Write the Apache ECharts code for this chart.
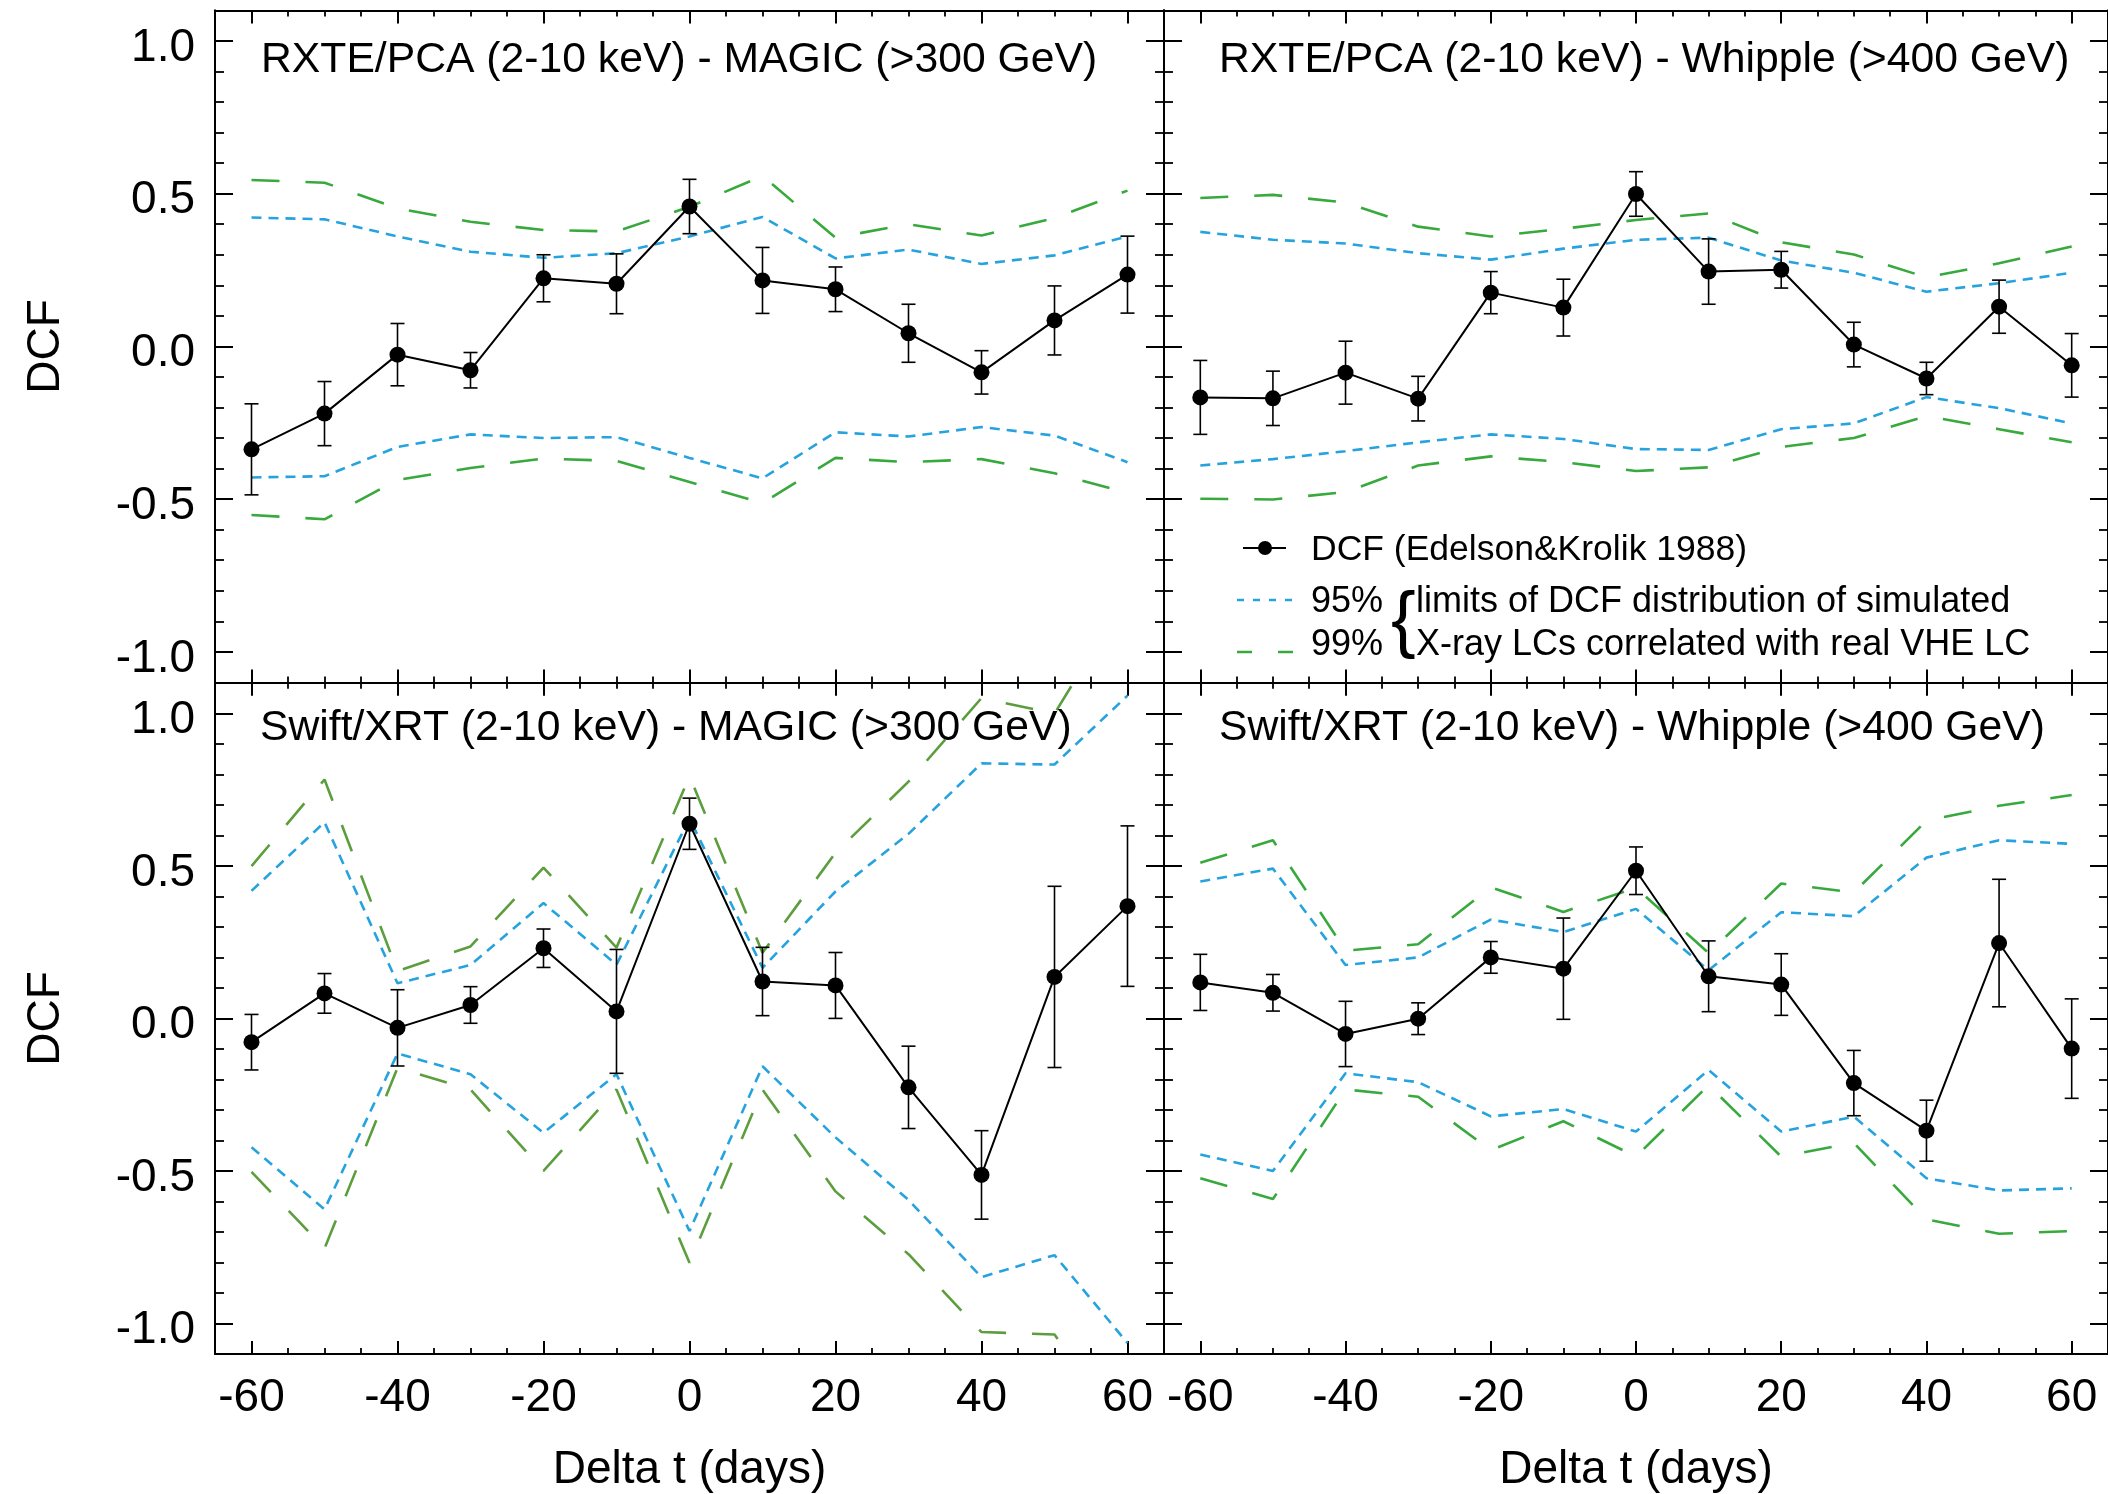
<!DOCTYPE html>
<html>
<head>
<meta charset="utf-8">
<script src="https://cdn.jsdelivr.net/npm/echarts@6/dist/echarts.min.js"></script>
<style>
html,body{margin:0;padding:0;background:#ffffff;}
#chart{width:2108px;height:1494px;}
</style>
</head>
<body>
<div id="chart"></div>
<script>
// ---------------- DATA ----------------
const lags = [-60, -50, -40, -30, -20, -10, 0, 10, 20, 30, 40, 50, 60];

// Panel A: RXTE/PCA - MAGIC
const dcfA  = [-0.337, -0.220, -0.027, -0.078, 0.223, 0.205, 0.458, 0.216, 0.187, 0.043, -0.085, 0.085, 0.235];
const errA  = [0.149, 0.105, 0.102, 0.058, 0.077, 0.098, 0.089, 0.108, 0.073, 0.095, 0.071, 0.113, 0.126];
const up95A = [0.422, 0.416, 0.360, 0.310, 0.290, 0.305, 0.360, 0.424, 0.288, 0.317, 0.270, 0.298, 0.360];
const lo95A = [-0.429, -0.425, -0.329, -0.288, -0.300, -0.297, -0.365, -0.432, -0.281, -0.295, -0.264, -0.292, -0.379];
const up99A = [0.545, 0.536, 0.452, 0.408, 0.381, 0.376, 0.457, 0.558, 0.356, 0.400, 0.363, 0.420, 0.510];
const lo99A = [-0.552, -0.566, -0.437, -0.398, -0.367, -0.375, -0.444, -0.513, -0.365, -0.379, -0.369, -0.415, -0.480];

// Panel B: RXTE/PCA - Whipple
const dcfB  = [-0.167, -0.170, -0.086, -0.171, 0.176, 0.127, 0.499, 0.245, 0.251, 0.006, -0.105, 0.130, -0.062];
const errB  = [0.121, 0.089, 0.103, 0.073, 0.069, 0.093, 0.073, 0.107, 0.060, 0.073, 0.053, 0.087, 0.104];
const up95B = [0.375, 0.349, 0.337, 0.305, 0.284, 0.320, 0.349, 0.356, 0.281, 0.241, 0.179, 0.207, 0.241];
const lo95B = [-0.390, -0.369, -0.343, -0.314, -0.288, -0.303, -0.336, -0.339, -0.271, -0.252, -0.166, -0.202, -0.252];
const up99B = [0.486, 0.496, 0.471, 0.392, 0.360, 0.385, 0.414, 0.435, 0.341, 0.301, 0.226, 0.272, 0.327];
const lo99B = [-0.499, -0.501, -0.477, -0.390, -0.360, -0.379, -0.408, -0.396, -0.329, -0.300, -0.228, -0.271, -0.314];

// Panel C: Swift/XRT - MAGIC
const dcfC  = [-0.078, 0.082, -0.031, 0.044, 0.230, 0.023, 0.638, 0.121, 0.108, -0.226, -0.513, 0.136, 0.368];
const errC  = [0.091, 0.065, 0.125, 0.060, 0.063, 0.203, 0.084, 0.112, 0.108, 0.135, 0.145, 0.297, 0.263];
const up95C = [0.418, 0.643, 0.115, 0.175, 0.378, 0.176, 0.655, 0.166, 0.416, 0.605, 0.836, 0.832, 1.058];
const lo95C = [-0.422, -0.626, -0.115, -0.183, -0.375, -0.183, -0.697, -0.157, -0.390, -0.595, -0.848, -0.776, -1.064];
const up99C = [0.499, 0.783, 0.155, 0.236, 0.494, 0.232, 0.794, 0.215, 0.543, 0.776, 1.050, 0.999, 1.390];
const lo99C = [-0.503, -0.754, -0.162, -0.233, -0.500, -0.233, -0.801, -0.234, -0.567, -0.773, -1.028, -1.036, -1.380];

// Panel D: Swift/XRT - Whipple
const dcfD  = [0.118, 0.084, -0.051, -0.001, 0.200, 0.163, 0.484, 0.138, 0.111, -0.212, -0.368, 0.247, -0.099];
const errD  = [0.092, 0.060, 0.107, 0.052, 0.052, 0.166, 0.078, 0.116, 0.101, 0.107, 0.100, 0.209, 0.163];
const up95D = [0.449, 0.491, 0.175, 0.200, 0.324, 0.283, 0.359, 0.158, 0.348, 0.335, 0.527, 0.584, 0.572];
const lo95D = [-0.446, -0.500, -0.180, -0.209, -0.321, -0.297, -0.371, -0.169, -0.371, -0.322, -0.524, -0.564, -0.557];
const up99D = [0.510, 0.584, 0.222, 0.243, 0.430, 0.349, 0.428, 0.214, 0.442, 0.413, 0.648, 0.697, 0.732];
const lo99D = [-0.524, -0.592, -0.233, -0.257, -0.432, -0.337, -0.453, -0.219, -0.453, -0.408, -0.659, -0.706, -0.697];

// Tick values / labels
const xMajorTicks = [-60, -40, -20, 0, 20, 40, 60];
const xMinorTicks = [-60, -55, -50, -45, -40, -35, -30, -25, -20, -15, -10, -5, 0, 5, 10, 15, 20, 25, 30, 35, 40, 45, 50, 55, 60];
const yMajorTicks = [-1.0, -0.5, 0.0, 0.5, 1.0];
const yMinorTicks = [-1.0, -0.9, -0.8, -0.7, -0.6, -0.5, -0.4, -0.3, -0.2, -0.1, 0.0, 0.1, 0.2, 0.3, 0.4, 0.5, 0.6, 0.7, 0.8, 0.9, 1.0];

// Texts
const panelTitles = [
  'RXTE/PCA (2-10 keV) - MAGIC (>300 GeV)',
  'RXTE/PCA (2-10 keV) - Whipple (>400 GeV)',
  'Swift/XRT (2-10 keV) - MAGIC (>300 GeV)',
  'Swift/XRT (2-10 keV) - Whipple (>400 GeV)'
];
const xAxisTitle = 'Delta t (days)';
const yAxisTitle = 'DCF';
const legendTexts = ['DCF (Edelson&Krolik 1988)', '95%', '99%', 'limits of DCF distribution of simulated', 'X-ray LCs correlated with real VHE LC'];

// ---------------- STYLE / LAYOUT ----------------
const FONT = "'Liberation Sans', Arial, Helvetica, sans-serif";
const BLUE = '#26a3de';
const panels = [
  {dcf: dcfA, err: errA, up95: up95A, lo95: lo95A, up99: up99A, lo99: lo99A},
  {dcf: dcfB, err: errB, up95: up95B, lo95: lo95B, up99: up99B, lo99: lo99B},
  {dcf: dcfC, err: errC, up95: up95C, lo95: lo95C, up99: up99C, lo99: lo99C},
  {dcf: dcfD, err: errD, up95: up95D, lo95: lo95D, up99: up99D, lo99: lo99D}
];
const layout = [
  {left: 215,  top: 10.4,  width: 949, height: 672, xLab: false, yLab: true,  green: '#38a93c', tx: 261,  ty: 60},
  {left: 1164, top: 10.4,  width: 950, height: 672, xLab: false, yLab: false, green: '#38a93c', tx: 1219, ty: 60},
  {left: 215,  top: 682.8, width: 949, height: 672, xLab: true,  yLab: true,  green: '#5c9e3e', tx: 260,  ty: 728},
  {left: 1164, top: 682.8, width: 950, height: 672, xLab: true,  yLab: false, green: '#38a93c', tx: 1219, ty: 728}
];

const grids = [], xAxes = [], yAxes = [], series = [], graphics = [];

function mkX(gi, pos, ticks, len, lw, withLabel) {
  return {
    type: 'value', gridIndex: gi, position: pos, min: -65, max: 65,
    axisLine: {show: true, onZero: false, lineStyle: {color: '#000', width: 2}},
    axisTick: {show: true, inside: true, length: len, customValues: ticks, lineStyle: {color: '#000', width: lw}},
    axisLabel: withLabel ? {show: true, customValues: xMajorTicks, margin: 21, color: '#000', fontSize: 46, fontFamily: FONT} : {show: false},
    splitLine: {show: false},
    name: withLabel ? xAxisTitle : '',
    nameLocation: 'middle', nameGap: 93,
    nameTextStyle: {color: '#000', fontSize: 46, fontFamily: FONT}
  };
}
function mkY(gi, pos, ticks, len, lw, withLabel) {
  return {
    type: 'value', gridIndex: gi, position: pos, min: -1.1, max: 1.1,
    axisLine: {show: true, onZero: false, lineStyle: {color: '#000', width: 2}},
    axisTick: {show: true, inside: true, length: len, customValues: ticks, lineStyle: {color: '#000', width: lw}},
    axisLabel: withLabel ? {show: true, customValues: yMajorTicks, margin: 20, color: '#000', fontSize: 46, fontFamily: FONT,
      verticalAlign: 'top', padding: [-16, 0, 0, 0],
      formatter: v => Number(v).toFixed(1)} : {show: false},
    splitLine: {show: false},
    name: withLabel ? yAxisTitle : '',
    nameLocation: 'middle', nameGap: 146, nameRotate: 90,
    nameTextStyle: {color: '#000', fontSize: 46, fontFamily: FONT}
  };
}

layout.forEach((L, gi) => {
  grids.push({left: L.left, top: L.top, width: L.width, height: L.height, containLabel: false, show: false});
  const xb = xAxes.length;
  xAxes.push(mkX(gi, 'bottom', xMajorTicks, 13, 2, L.xLab));
  xAxes.push(mkX(gi, 'bottom', xMinorTicks, 6, 1.8, false));
  xAxes.push(mkX(gi, 'top', xMajorTicks, 13, 2, false));
  xAxes.push(mkX(gi, 'top', xMinorTicks, 6, 1.8, false));
  const yb = yAxes.length;
  yAxes.push(mkY(gi, 'left', yMajorTicks, 18, 2, L.yLab));
  yAxes.push(mkY(gi, 'left', yMinorTicks, 9, 1.8, false));
  yAxes.push(mkY(gi, 'right', yMajorTicks, 18, 2, false));
  yAxes.push(mkY(gi, 'right', yMinorTicks, 9, 1.8, false));

  const P = panels[gi];
  const pair = arr => lags.map((t, i) => [t, arr[i]]);
  const limStyle = (color, dash, w) => ({
    type: 'line', xAxisIndex: xb, yAxisIndex: yb, data: null, symbol: 'none', clip: true, z: 2,
    lineStyle: {color: color, width: w, type: dash}, silent: true
  });
  [[P.up99, L.green, [28, 26], 2.6], [P.lo99, L.green, [28, 26], 2.6],
   [P.up95, BLUE, [10, 7], 2.6], [P.lo95, BLUE, [10, 7], 2.6]].forEach(s => {
    const o = limStyle(s[1], s[2], s[3]);
    o.data = pair(s[0]);
    series.push(o);
  });
  // error bars
  series.push({
    type: 'custom', xAxisIndex: xb, yAxisIndex: yb, z: 4,
    data: lags.map((t, i) => [t, P.dcf[i] - P.err[i], P.dcf[i] + P.err[i]]),
    encode: {x: 0, y: [1, 2]},
    renderItem: (params, api) => {
      const x = api.value(0);
      const lo = api.coord([x, api.value(1)]);
      const hi = api.coord([x, api.value(2)]);
      const c = 7;
      const st = {stroke: '#000', lineWidth: 1.6};
      return {type: 'group', children: [
        {type: 'line', shape: {x1: lo[0], y1: lo[1], x2: hi[0], y2: hi[1]}, style: st},
        {type: 'line', shape: {x1: lo[0] - c, y1: lo[1], x2: lo[0] + c, y2: lo[1]}, style: st},
        {type: 'line', shape: {x1: hi[0] - c, y1: hi[1], x2: hi[0] + c, y2: hi[1]}, style: st}
      ]};
    }
  });
  // DCF points
  series.push({
    type: 'line', xAxisIndex: xb, yAxisIndex: yb, z: 5,
    data: pair(P.dcf), symbol: 'circle', symbolSize: 16, showSymbol: true,
    itemStyle: {color: '#000'}, lineStyle: {color: '#000', width: 2}
  });

  graphics.push({type: 'text', x: L.tx, y: L.ty, z: 10,
    style: {text: panelTitles[gi], fill: '#000', fontSize: 42.7, fontFamily: FONT,
      align: 'left', verticalAlign: 'middle', textAlign: 'left', textVerticalAlign: 'middle'}});
});

// Legend (in top-right panel)
const txt = (s, x, y, fs) => ({type: 'text', x: x, y: y, z: 10,
  style: {text: s, fill: '#000', fontSize: fs, fontFamily: FONT, align: 'left', verticalAlign: 'middle', textAlign: 'left', textVerticalAlign: 'middle'}});
graphics.push({type: 'line', z: 10, shape: {x1: 1243, y1: 548, x2: 1286, y2: 548}, style: {stroke: '#000', lineWidth: 2}});
graphics.push({type: 'circle', z: 10, shape: {cx: 1265, cy: 548, r: 7}, style: {fill: '#000'}});
graphics.push(txt(legendTexts[0], 1311, 550, 35.5));
graphics.push({type: 'line', z: 10, shape: {x1: 1237, y1: 600, x2: 1294, y2: 600}, style: {stroke: BLUE, lineWidth: 2.6, lineDash: [7, 9]}});
graphics.push(txt(legendTexts[1], 1311, 602, 36));
graphics.push({type: 'line', z: 10, shape: {x1: 1237, y1: 652, x2: 1294, y2: 652}, style: {stroke: '#38a93c', lineWidth: 2.6, lineDash: [15, 26]}});
graphics.push(txt(legendTexts[2], 1311, 645, 36));
graphics.push({type: 'text', x: 1391, y: 624, z: 10,
  style: {text: '{', fill: '#000', fontSize: 74, fontFamily: FONT, align: 'left', verticalAlign: 'middle', textAlign: 'left', textVerticalAlign: 'middle'}});
graphics.push(txt(legendTexts[3], 1416, 602, 36));
graphics.push(txt(legendTexts[4], 1416, 645, 36));

const chart = echarts.init(document.getElementById('chart'), null, {renderer: 'canvas'});
chart.setOption({
  backgroundColor: '#ffffff',
  animation: false,
  grid: grids,
  xAxis: xAxes,
  yAxis: yAxes,
  series: series,
  graphic: graphics
});
</script>
</body>
</html>
